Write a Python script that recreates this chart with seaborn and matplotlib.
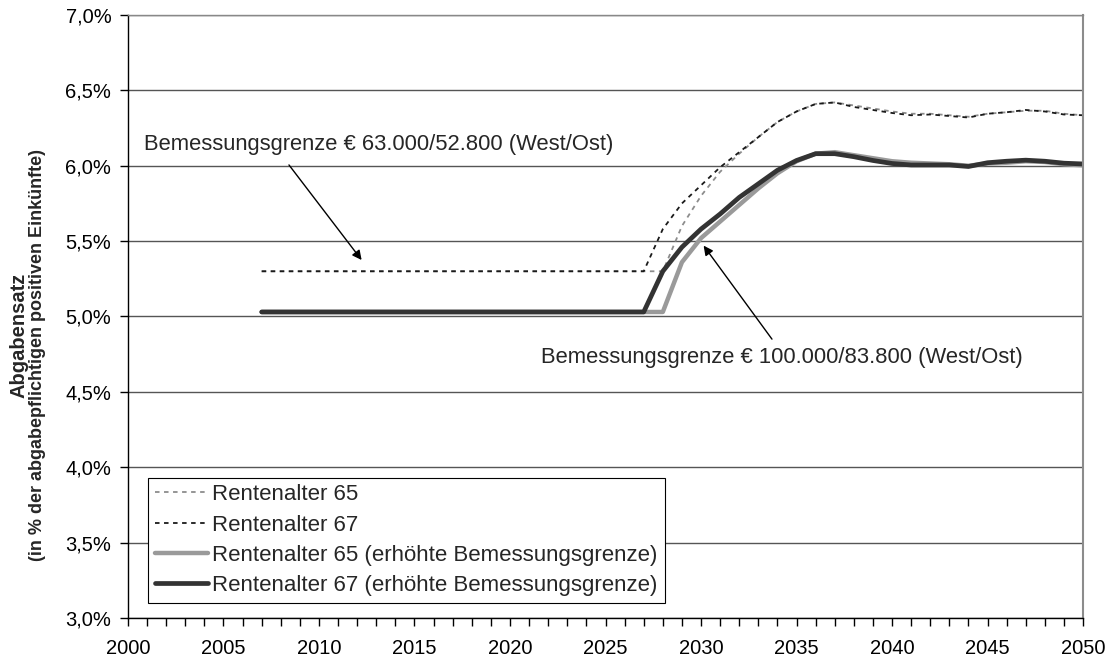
#!/usr/bin/env python3
"""
Abgabensatz nach Rentenalter und Bemessungsgrenze, 2007-2050
"""

import numpy as np
import pandas as pd
import seaborn as sns
import matplotlib.pyplot as plt
from matplotlib.ticker import FuncFormatter, MultipleLocator

# === Data ===
years = list(range(2007, 2051))

# Rentenalter 65 (dotted grey)
r65 = [5.30] * 22 + [5.60, 5.80, 5.96, 6.08, 6.19, 6.29, 6.36, 6.41, 6.42, 6.40,
                     6.38, 6.36, 6.345, 6.345, 6.335, 6.325, 6.345, 6.355, 6.365,
                     6.365, 6.345, 6.335]
# Rentenalter 67 (dotted black)
r67 = [5.30] * 21 + [5.58, 5.75, 5.87, 5.99, 6.09, 6.19, 6.29, 6.36, 6.41, 6.42,
                     6.39, 6.37, 6.35, 6.335, 6.34, 6.33, 6.32, 6.345, 6.355, 6.37,
                     6.36, 6.34, 6.335]
# Rentenalter 65, erhoehte Bemessungsgrenze (solid grey)
r65_hi = [5.03] * 22 + [5.36, 5.52, 5.63, 5.74, 5.85, 5.95, 6.03, 6.08, 6.09, 6.07,
                        6.05, 6.03, 6.02, 6.015, 6.01, 6.00, 6.015, 6.02, 6.03,
                        6.025, 6.01, 6.003]
# Rentenalter 67, erhoehte Bemessungsgrenze (solid dark)
r67_hi = [5.03] * 21 + [5.30, 5.46, 5.58, 5.68, 5.79, 5.88, 5.97, 6.035, 6.08, 6.08,
                        6.06, 6.035, 6.015, 6.005, 6.005, 6.005, 5.995, 6.02, 6.03,
                        6.037, 6.03, 6.017, 6.012]

labels = ["Rentenalter 65",
          "Rentenalter 67",
          "Rentenalter 65 (erhöhte Bemessungsgrenze)",
          "Rentenalter 67 (erhöhte Bemessungsgrenze)"]

note_low = "Bemessungsgrenze \u20ac 63.000/52.800 (West/Ost)"
note_high = "Bemessungsgrenze \u20ac 100.000/83.800 (West/Ost)"

# === Style ===
sns.set_theme(style="white")
plt.rcParams['font.family'] = ['Liberation Sans', 'DejaVu Sans']

df = pd.DataFrame({"Jahr": years, labels[0]: r65, labels[1]: r67,
                   labels[2]: r65_hi, labels[3]: r67_hi})
long_df = df.melt(id_vars="Jahr", var_name="Reihe", value_name="Satz")

styles = {
    labels[0]: dict(color="#8c8c8c", lw=1.3, ls=(0, (2.5, 2.5))),
    labels[1]: dict(color="#1a1a1a", lw=1.3, ls=(0, (2.5, 2.5))),
    labels[2]: dict(color="#9a9a9a", lw=3.2, ls="-"),
    labels[3]: dict(color="#333333", lw=3.4, ls="-"),
}

fig = plt.figure(figsize=(11.09, 6.58), dpi=100)
ax = fig.add_axes([0.1154, 0.0608, 0.8612, 0.9164])

for name in labels:
    st = styles[name]
    sns.lineplot(data=long_df[long_df["Reihe"] == name], x="Jahr", y="Satz",
                 color=st["color"], linewidth=st["lw"], linestyle=st["ls"],
                 label=name, ax=ax)

ax.set_xlim(2000, 2050)
ax.set_ylim(3.0, 7.0)
ax.xaxis.set_major_locator(MultipleLocator(5))
ax.xaxis.set_minor_locator(MultipleLocator(1))
ax.yaxis.set_major_locator(MultipleLocator(0.5))
ax.yaxis.set_major_formatter(FuncFormatter(lambda v, p: f"{v:.1f}%".replace(".", ",")))

ax.grid(axis="y", color="#555555", linewidth=1.0)
ax.set_axisbelow(True)
ax.tick_params(axis="both", which="both", direction="out", length=6, width=1,
               color="black", labelsize=14.5, labelcolor="black", bottom=True, left=True)
ax.tick_params(axis="x", pad=9)
ax.tick_params(axis="y", pad=6)

for side in ["left", "bottom"]:
    ax.spines[side].set_color("black")
    ax.spines[side].set_linewidth(1.0)
ax.spines["top"].set_color("#888888")
ax.spines["top"].set_linewidth(1.0)
ax.spines["right"].set_color("#8c8c8c")
ax.spines["right"].set_linewidth(1.5)

ax.set_xlabel("")
ax.set_ylabel("")
fig.text(0.017, 0.49, "Abgabensatz", rotation=90, ha="center", va="center",
         fontsize=14.5, fontweight="bold")
fig.text(0.034, 0.46, "(in % der abgabepflichtigen positiven Einkünfte)", rotation=90,
         ha="center", va="center", fontsize=13, fontweight="bold")

# annotations
ax.text(2000.85, 6.14, note_low, fontsize=15.8, ha="left", va="center")
ax.annotate("", xy=(2012.32, 5.36), xytext=(2008.34, 6.02),
            arrowprops=dict(arrowstyle="-|>", color="black", lw=1.0, mutation_scale=14))
ax.text(2021.6, 4.73, note_high, fontsize=15.8, ha="left", va="center")
ax.annotate("", xy=(2030.05, 5.485), xytext=(2033.8, 4.835),
            arrowprops=dict(arrowstyle="-|>", color="black", lw=1.0, mutation_scale=14))

leg = ax.legend(loc="lower left", bbox_to_anchor=(0.021, 0.025), fontsize=16,
                handlelength=2.4, handletextpad=0.2, labelspacing=0.42,
                borderpad=0.3, borderaxespad=0, fancybox=False, framealpha=1)
leg.get_frame().set_edgecolor("black")
leg.get_frame().set_linewidth(0.8)

fig.savefig("out.png", dpi=100)
plt.close(fig)
